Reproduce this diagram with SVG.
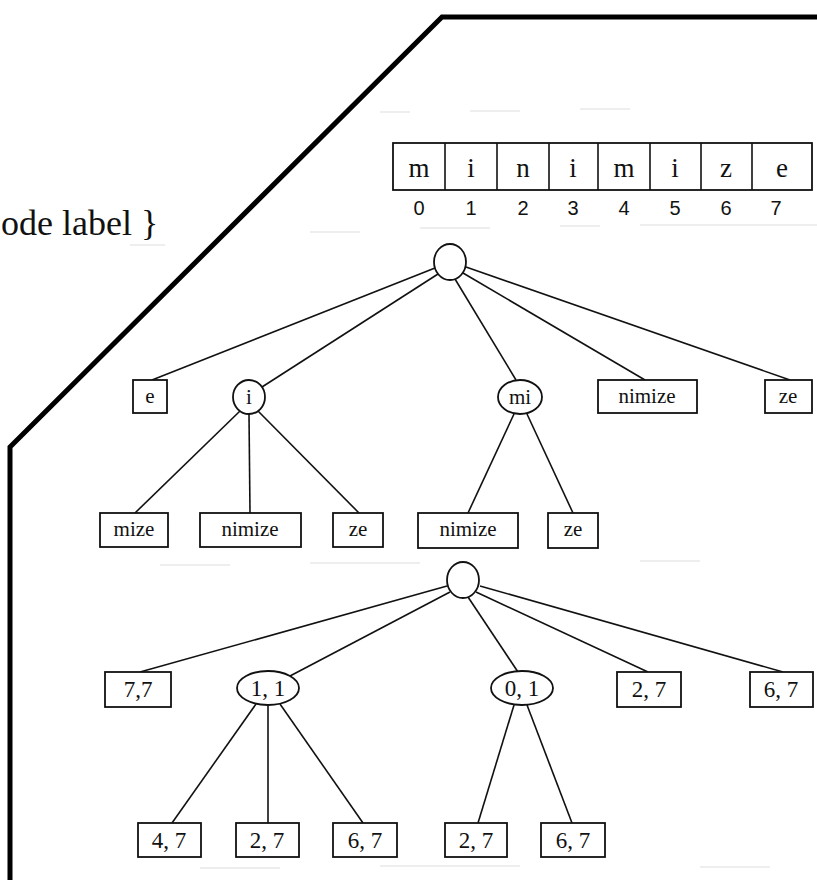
<svg xmlns="http://www.w3.org/2000/svg" width="817" height="880" viewBox="0 0 817 880">
<style>
.bg{fill:#fff}
.frame{fill:none;stroke:#000;stroke-width:5;stroke-linejoin:miter}
.edge{stroke:#111;stroke-width:1.6;fill:none}
.box{fill:#fff;stroke:#111;stroke-width:1.8}
.node{fill:#fff;stroke:#111;stroke-width:1.8}
.lbl{font-family:"Liberation Serif",serif;font-size:21px;fill:#111;text-anchor:middle}
.num{font-family:"Liberation Serif",serif;font-size:23px;fill:#111;text-anchor:middle}
.cell{font-family:"Liberation Serif",serif;font-size:27px;fill:#111;text-anchor:middle}
.idx{font-family:"Liberation Sans",sans-serif;font-size:20px;fill:#111;text-anchor:middle}
.side{font-family:"Liberation Serif",serif;font-size:36px;fill:#111}
.faint{stroke:#e8e8e8;stroke-width:1.5}
</style>
<rect class="bg" x="0" y="0" width="817" height="880"/>
<g id="scan-artifacts">
<line class="faint" x1="380" y1="112" x2="410" y2="112"/>
<line class="faint" x1="470" y1="111" x2="520" y2="111"/>
<line class="faint" x1="580" y1="109" x2="630" y2="109"/>
<line class="faint" x1="130" y1="245" x2="165" y2="245"/>
<line class="faint" x1="310" y1="232" x2="360" y2="232"/>
<line class="faint" x1="420" y1="228" x2="490" y2="228"/>
<line class="faint" x1="560" y1="226" x2="600" y2="226"/>
<line class="faint" x1="640" y1="225" x2="817" y2="225"/>
<line class="faint" x1="160" y1="565" x2="230" y2="565"/>
<line class="faint" x1="310" y1="563" x2="420" y2="563"/>
<line class="faint" x1="640" y1="561" x2="700" y2="561"/>
<line class="faint" x1="200" y1="868" x2="280" y2="868"/>
<line class="faint" x1="380" y1="866" x2="520" y2="866"/>
<line class="faint" x1="700" y1="867" x2="770" y2="867"/>
</g>
<g id="frame">
<polyline class="frame" points="817,17 442,17 10,447 10,880"/>
</g>
<g id="side-text">
<text class="side" x="1" y="235">ode label }</text>
</g>
<g id="array">
<rect class="box" x="393" y="143" width="419" height="47"/>
<line class="edge" x1="445" y1="143" x2="445" y2="190"/>
<line class="edge" x1="497" y1="143" x2="497" y2="190"/>
<line class="edge" x1="549" y1="143" x2="549" y2="190"/>
<line class="edge" x1="598" y1="143" x2="598" y2="190"/>
<line class="edge" x1="650" y1="143" x2="650" y2="190"/>
<line class="edge" x1="701" y1="143" x2="701" y2="190"/>
<line class="edge" x1="752" y1="143" x2="752" y2="190"/>
<text class="cell" x="419" y="177">m</text>
<text class="cell" x="471" y="177">i</text>
<text class="cell" x="523" y="177">n</text>
<text class="cell" x="573" y="177">i</text>
<text class="cell" x="624" y="177">m</text>
<text class="cell" x="675" y="177">i</text>
<text class="cell" x="726" y="177">z</text>
<text class="cell" x="782" y="177">e</text>
<text class="idx" x="419" y="215">0</text>
<text class="idx" x="471" y="215">1</text>
<text class="idx" x="523" y="215">2</text>
<text class="idx" x="573" y="215">3</text>
<text class="idx" x="624" y="215">4</text>
<text class="idx" x="675" y="215">5</text>
<text class="idx" x="726" y="215">6</text>
<text class="idx" x="776" y="215">7</text>
</g>
<g id="connectors">
<line class="edge" x1="435" y1="268" x2="152" y2="380"/>
<line class="edge" x1="438" y1="274" x2="262" y2="387"/>
<line class="edge" x1="455" y1="279" x2="516" y2="380"/>
<line class="edge" x1="463" y1="273" x2="645" y2="380"/>
<line class="edge" x1="466" y1="267" x2="790" y2="380"/>
<line class="edge" x1="240" y1="411" x2="135" y2="513"/>
<line class="edge" x1="249" y1="414" x2="250" y2="513"/>
<line class="edge" x1="258" y1="411" x2="359" y2="513"/>
<line class="edge" x1="514" y1="414" x2="468" y2="513"/>
<line class="edge" x1="527" y1="414" x2="573" y2="513"/>
<line class="edge" x1="447" y1="586" x2="140" y2="672"/>
<line class="edge" x1="450" y1="592" x2="290" y2="676"/>
<line class="edge" x1="468" y1="597" x2="518" y2="672"/>
<line class="edge" x1="476" y1="592" x2="648" y2="672"/>
<line class="edge" x1="480" y1="586" x2="783" y2="672"/>
<line class="edge" x1="256" y1="704" x2="172" y2="823"/>
<line class="edge" x1="268" y1="705" x2="268" y2="823"/>
<line class="edge" x1="280" y1="704" x2="363" y2="823"/>
<line class="edge" x1="514" y1="705" x2="478" y2="823"/>
<line class="edge" x1="527" y1="705" x2="572" y2="823"/>
</g>
<g id="t1-root"><ellipse class="node" cx="450" cy="262" rx="16" ry="18"/></g>
<g id="t1-e"><rect class="box" x="133" y="380" width="34" height="33"/><text class="lbl" x="150" y="403">e</text></g>
<g id="t1-i"><ellipse class="node" cx="249" cy="397" rx="16" ry="17"/><text class="lbl" x="249" y="404">i</text></g>
<g id="t1-mi"><ellipse class="node" cx="520" cy="397" rx="22" ry="17"/><text class="lbl" x="520" y="404">mi</text></g>
<g id="t1-nimize"><rect class="box" x="598" y="380" width="99" height="33"/><text class="lbl" x="647" y="403">nimize</text></g>
<g id="t1-ze"><rect class="box" x="765" y="380" width="47" height="33"/><text class="lbl" x="788" y="403">ze</text></g>
<g id="t1-mize"><rect class="box" x="100" y="513" width="68" height="34"/><text class="lbl" x="134" y="536">mize</text></g>
<g id="t1-nimize2"><rect class="box" x="200" y="513" width="101" height="34"/><text class="lbl" x="250" y="536">nimize</text></g>
<g id="t1-ze2"><rect class="box" x="333" y="513" width="50" height="34"/><text class="lbl" x="358" y="536">ze</text></g>
<g id="t1-nimize3"><rect class="box" x="418" y="513" width="100" height="35"/><text class="lbl" x="468" y="536">nimize</text></g>
<g id="t1-ze3"><rect class="box" x="548" y="513" width="50" height="35"/><text class="lbl" x="573" y="536">ze</text></g>
<g id="t2-root"><ellipse class="node" cx="463" cy="580" rx="16" ry="18"/></g>
<g id="t2-77"><rect class="box" x="105" y="672" width="66" height="35"/><text class="num" x="138" y="697">7,7</text></g>
<g id="t2-11"><ellipse class="node" cx="268" cy="688" rx="31" ry="17"/><text class="num" x="268" y="696">1, 1</text></g>
<g id="t2-01"><ellipse class="node" cx="522" cy="688" rx="31" ry="17"/><text class="num" x="522" y="696">0, 1</text></g>
<g id="t2-27"><rect class="box" x="617" y="672" width="64" height="35"/><text class="num" x="649" y="697">2, 7</text></g>
<g id="t2-67"><rect class="box" x="750" y="672" width="63" height="35"/><text class="num" x="781" y="697">6, 7</text></g>
<g id="t2-47"><rect class="box" x="138" y="823" width="63" height="34"/><text class="num" x="169" y="848">4, 7</text></g>
<g id="t2-27b"><rect class="box" x="236" y="823" width="63" height="34"/><text class="num" x="267" y="848">2, 7</text></g>
<g id="t2-67b"><rect class="box" x="333" y="823" width="64" height="34"/><text class="num" x="365" y="848">6, 7</text></g>
<g id="t2-27c"><rect class="box" x="445" y="823" width="62" height="34"/><text class="num" x="476" y="848">2, 7</text></g>
<g id="t2-67c"><rect class="box" x="541" y="823" width="64" height="34"/><text class="num" x="573" y="848">6, 7</text></g>
</svg>
